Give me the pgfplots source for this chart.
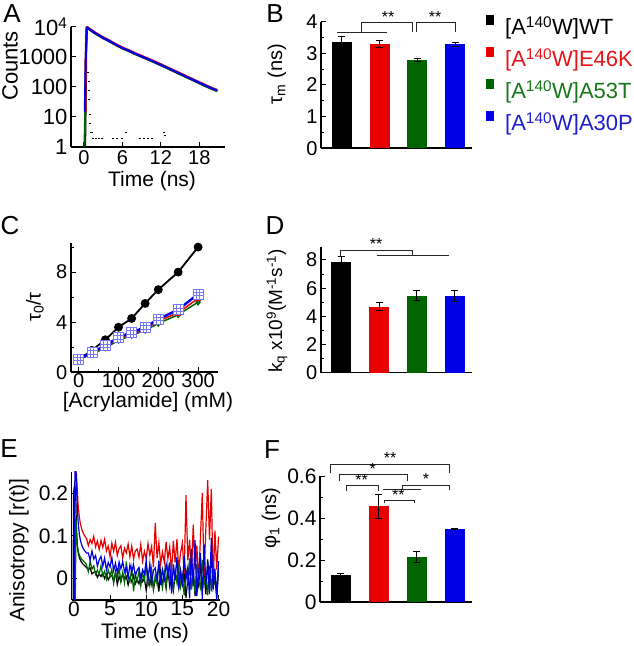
\documentclass[border=0pt]{standalone}
\usepackage{fontspec}
\setmainfont{Liberation Sans}
\usepackage{pgfplots}
\pgfplotsset{compat=1.18}

\definecolor{cred}{RGB}{230,0,0}
\definecolor{cgreen}{RGB}{0,100,0}
\definecolor{cblue}{RGB}{0,0,230}
\definecolor{tred}{RGB}{232,20,25}
\definecolor{tgreen}{RGB}{25,120,25}
\definecolor{tblue}{RGB}{30,30,205}
\definecolor{gridblue}{RGB}{120,120,255}

\newcommand{\fs}[1]{\fontsize{#1}{#1}\selectfont}

\pgfdeclareplotmark{gridsq}{%
  \pgfpathrectangle{\pgfpoint{-\pgfplotmarksize}{-\pgfplotmarksize}}{\pgfpoint{2\pgfplotmarksize}{2\pgfplotmarksize}}%
  \pgfusepathqfillstroke
  \pgfpathmoveto{\pgfpoint{-0.33\pgfplotmarksize}{-\pgfplotmarksize}}\pgfpathlineto{\pgfpoint{-0.33\pgfplotmarksize}{\pgfplotmarksize}}%
  \pgfpathmoveto{\pgfpoint{0.33\pgfplotmarksize}{-\pgfplotmarksize}}\pgfpathlineto{\pgfpoint{0.33\pgfplotmarksize}{\pgfplotmarksize}}%
  \pgfpathmoveto{\pgfpoint{-\pgfplotmarksize}{-0.33\pgfplotmarksize}}\pgfpathlineto{\pgfpoint{\pgfplotmarksize}{-0.33\pgfplotmarksize}}%
  \pgfpathmoveto{\pgfpoint{-\pgfplotmarksize}{0.33\pgfplotmarksize}}\pgfpathlineto{\pgfpoint{\pgfplotmarksize}{0.33\pgfplotmarksize}}%
  \pgfusepathqstroke
}

\tikzset{sig/.style={line width=0.9pt, black!85}}

\pgfplotsset{
  panel/.style={
    scale only axis, anchor=south west,
    axis lines*=left,
    axis line style={line width=1.6pt},
    tick style={line width=1pt, black},
    major tick length=5pt, minor tick length=3pt,
    tick align=inside,
    /pgf/number format/assume math mode=true,
    ticklabel style={font=\fs{20}},
    clip=false,
  },
  barpanel/.style={panel, ybar, bar shift=0pt, bar width=20pt,
    xmin=0.45, xmax=4.45, xtick=\empty, ymin=0},
  eb/.style={error bars/.cd, y dir=both, y explicit,
    error bar style={line width=1pt, black},
    error mark options={rotate=90, mark size=3.5pt, line width=1pt, black}},
}

\begin{document}
\begin{tikzpicture}
\useasboundingbox (0,0) rectangle (633pt,646pt);

% ---------------- A ----------------
\begin{axis}[panel, at={(71pt,499pt)}, width=154pt, height=120pt,
  ymode=log, ymin=1, ymax=10000, xmin=-2, xmax=22,
  xtick={0,6,12,18}, ytick={1,10,100,1000,10000},
  yticklabels={1,10,100,1000,10\textsuperscript{4}},
  yminorticks=false,
  yticklabel style={font=\fs{22}}]
\addplot[black, line width=2pt] coordinates {(0.2,1)(0.3,60)(0.38,2500)(0.5,9300)(0.8,8500)(1.2,7400)(1.6,6450)(2.3,5250)(3,4270)(4,3310)(5,2510)(6,1950)(7,1580)(8,1260)(9,1020)(10,830)(11,670)(12,537)(13,427)(14,339)(15,269)(16,214)(17,170)(18,135)(19,107)(20,87)(20.8,74)};
\addplot[cgreen, line width=2pt] coordinates {(0.1,1)(0.2,10)(0.3,800)(0.45,8800)(0.55,9200)(0.8,8400)(1.2,7350)(1.6,6400)(2.3,5200)(3,4230)(4,3280)(5,2490)(6,1935)(7,1570)(8,1250)(9,1010)(10,820)(11,662)(12,530)(13,422)(14,335)(15,265)(16,211)(17,168)(18,133)(19,105)(20,85)(20.8,73)};
\addplot[cred, line width=2.2pt] coordinates {(0.25,15)(0.33,2500)(0.45,9600)(0.55,9900)(0.8,9050)(1.2,7900)(1.6,6880)(2.3,5590)(3,4540)(4,3525)(5,2670)(6,2075)(7,1685)(8,1340)(9,1090)(10,885)(11,712)(12,572)(13,454)(14,361)(15,286)(16,228)(17,181)(18,144)(19,115)(20,92)(20.8,79)};
\addplot[cblue, line width=2pt] coordinates {(0.15,15)(0.3,900)(0.45,9300)(0.55,9550)(0.8,8700)(1.2,7590)(1.6,6610)(2.3,5370)(3,4365)(4,3390)(5,2570)(6,1995)(7,1620)(8,1290)(9,1047)(10,851)(11,684)(12,550)(13,437)(14,347)(15,275)(16,219)(17,174)(18,138)(19,110)(20,89)(20.8,76)};
\addplot[only marks, mark=-, mark size=1pt, mark options={line width=0.6pt}, black] coordinates {(0.7,300)(0.75,150)(0.8,80)(0.85,40)(0.9,12)(1.0,6)(1.15,3)(1.3,3.2)(1.5,2)(1.9,2)(2.4,2)(2.9,2)(4.5,2)(5.2,2)(6.0,2)(6.5,3.2)(8.7,2)(9.3,2)(10.0,2)(10.6,2)(12.5,3.2)(12.6,2.4)};
\end{axis}

% ---------------- B ----------------
\begin{axis}[barpanel, at={(321pt,497.7pt)}, width=151pt, height=126.6pt,
  ymax=4, ytick={0,1,2,3,4}, minor ytick={0.5,1.5,2.5,3.5}]
\addplot[fill=black, draw=none, bar shift=0pt, eb] coordinates {(1,3.35) +- (0,0.17)};
\addplot[fill=cred, draw=none, bar shift=0pt, eb] coordinates {(2,3.30) +- (0,0.12)};
\addplot[fill=cgreen, draw=none, bar shift=0pt, eb] coordinates {(3,2.78) +- (0,0.05)};
\addplot[fill=cblue, draw=none, bar shift=0pt, eb] coordinates {(4,3.29) +- (0,0.06)};
\draw[sig] (axis cs:0.874,3.665) -- (axis cs:2.198,3.665);
\draw[sig] (axis cs:1.53,3.665) -- (axis cs:1.53,3.97) -- (axis cs:2.88,3.97) -- (axis cs:2.88,3.665);
\draw[sig] (axis cs:2.985,3.665) -- (axis cs:2.985,3.97) -- (axis cs:3.999,3.97) -- (axis cs:3.999,3.665);
\node[font=\fs{16}] at (axis cs:2.225,4.15) {**};
\node[font=\fs{16}] at (axis cs:3.47,4.15) {**};
\end{axis}

% legend of the four proteins
\fill[black]  (485.7pt,621pt) rectangle (493.7pt,631pt);
\fill[cred]   (485.7pt,589pt) rectangle (493.7pt,599pt);
\fill[cgreen] (485.7pt,557pt) rectangle (493.7pt,567pt);
\fill[cblue]  (485.7pt,525pt) rectangle (493.7pt,535pt);
\node[anchor=base west, inner sep=0pt, font=\fs{22}] at (505pt,611pt) {[A\textsuperscript{140}W]WT};
\node[anchor=base west, inner sep=0pt, font=\fs{22}, text=tred] at (505pt,579pt) {[A\textsuperscript{140}W]E46K};
\node[anchor=base west, inner sep=0pt, font=\fs{22}, text=tgreen] at (505pt,547pt) {[A\textsuperscript{140}W]A53T};
\node[anchor=base west, inner sep=0pt, font=\fs{22}, text=tblue] at (505pt,515pt) {[A\textsuperscript{140}W]A30P};

% ---------------- C ----------------
\begin{axis}[panel, at={(70.7pt,273.7pt)}, width=147.3pt, height=129pt,
  xmin=-20, xmax=350, ymin=0, ymax=10.3,
  xtick={0,100,200,300}, minor xtick={50,150,250},
  ytick={0,4,8}, minor ytick={2,6,10},
  xticklabel style={yshift=2pt}]
\addplot[black, line width=1.8pt, mark=*, mark size=3.5pt] coordinates {(0,1.0)(33,1.75)(67,2.6)(100,3.6)(133,4.3)(167,5.5)(200,6.6)(250,8.0)(300,10.0)};
\addplot[cgreen, line width=1.5pt, mark=diamond*, mark size=2.5pt] coordinates {(0,1.0)(33,1.45)(67,1.95)(100,2.55)(133,2.95)(167,3.35)(200,3.9)(250,4.6)(300,5.6)};
\addplot[cred, line width=1.5pt, mark=square*, mark size=2pt] coordinates {(0,1.0)(33,1.55)(67,2.05)(100,2.7)(133,3.05)(167,3.45)(200,4.1)(250,4.75)(300,5.9)};
\addplot[cblue, line width=2.4pt, mark=gridsq, mark size=5pt, mark options={draw=gridblue, fill=white, line width=0.6pt}] coordinates {(0,1.07)(33,1.6)(67,2.13)(100,2.79)(133,3.19)(167,3.59)(200,4.25)(250,5.0)(300,6.25)};
\end{axis}

% ---------------- D ----------------
\begin{axis}[barpanel, at={(320.7pt,273.3pt)}, width=151pt, height=125.4pt,
  ymax=8.9, ytick={0,2,4,6,8}, minor ytick={1,3,5,7}]
\addplot[fill=black, draw=none, bar shift=0pt, eb] coordinates {(1,7.87) +- (0,0.35)};
\addplot[fill=cred, draw=none, bar shift=0pt, eb] coordinates {(2,4.68) +- (0,0.28)};
\addplot[fill=cgreen, draw=none, bar shift=0pt, eb] coordinates {(3,5.46) +- (0,0.35)};
\addplot[fill=cblue, draw=none, bar shift=0pt, eb] coordinates {(4,5.44) +- (0,0.37)};
\draw[sig] (axis cs:0.98,8.23) -- (axis cs:0.98,8.71) -- (axis cs:2.887,8.71) -- (axis cs:2.887,8.35);
\draw[sig] (axis cs:1.95,8.35) -- (axis cs:3.86,8.35);
\node[font=\fs{16}] at (axis cs:1.915,9.11) {**};
\end{axis}

% ---------------- E ----------------
\begin{axis}[panel, at={(71.7pt,46pt)}, width=148.3pt, height=128.3pt,
  xmin=-0.3, xmax=20.2, ymin=-0.05, ymax=0.25,
  xtick={0,5,10,15,20}, ytick={0,0.1,0.2},
  ticklabel style={font=\fs{21}}, xticklabel style={yshift=2pt}]
\addplot[black, line width=1.2pt] coordinates {(-0.1,-0.05)(-0.05,0.2)(0.1,0.22)(0.25,0.2)(0.35,0.12)(0.45,0.08)(0.6,0.06)(0.8,0.047)(1,0.04)(1.25,0.034)(1.5,0.03)(1.75,0.026)
(2,0.020)(2.25,0.025)(2.5,0.011)(2.75,0.015)(3,0.016)(3.25,0.003)(3.5,0.011)(3.75,0.005)(4,0.013)(4.25,0.000)(4.5,0.010)(4.75,-0.003)(5,0.005)(5.25,0.008)(5.5,-0.007)(5.75,0.016)(6,-0.014)(6.25,0.005)(6.5,-0.007)(6.75,0.011)(7,-0.003)(7.25,0.005)(7.5,-0.015)(7.75,0.003)(8,-0.008)(8.25,0.007)(8.5,-0.012)(8.75,-0.002)(9,-0.012)(9.25,0.007)(9.5,-0.007)(9.75,0.000)(10,-0.028)(10.25,0.013)(10.5,-0.015)(10.75,0.015)(11,-0.025)(11.25,-0.003)(11.5,0.010)(11.75,-0.030)(12,0.018)(12.25,-0.013)(12.5,0.008)(12.75,-0.023)(13,0.020)(13.25,-0.018)(13.5,0.003)(13.75,-0.028)(14,0.010)(14.25,0.003)(14.5,-0.023)(14.75,0.018)(15,-0.013)(15.25,0.015)(15.5,-0.045)(15.75,-0.001)(16,0.027)(16.25,-0.025)(16.5,0.019)(16.75,-0.041)(17,0.003)(17.25,-0.017)(17.5,0.035)(17.75,-0.029)(18,0.011)(18.25,-0.037)(18.5,0.045)(18.75,-0.009)(19,0.060)(19.25,-0.021)(19.5,0.003)(19.75,-0.045)(20,0.019)};
\addplot[cred, line width=1.2pt] coordinates {(0.2,0.25)(0.35,0.245)(0.5,0.2)(0.6,0.17)(0.75,0.145)(0.9,0.128)(1.1,0.115)(1.3,0.106)(1.5,0.1)(1.75,0.094)
(2,0.077)(2.25,0.091)(2.5,0.082)(2.75,0.099)(3,0.074)(3.25,0.088)(3.5,0.068)(3.75,0.089)(4,0.073)(4.25,0.092)(4.5,0.065)(4.75,0.076)(5,0.051)(5.25,0.083)(5.5,0.064)(5.75,0.085)(6,0.054)(6.25,0.070)(6.5,0.077)(6.75,0.048)(7,0.071)(7.25,0.060)(7.5,0.081)(7.75,0.051)(8,0.076)(8.25,0.046)(8.5,0.065)(8.75,0.069)(9,0.050)(9.25,0.080)(9.5,0.041)(9.75,0.064)(10,0.046)(10.25,0.082)(10.5,0.055)(10.75,0.075)(11,0.027)(11.25,0.130)(11.5,0.048)(11.75,0.084)(12,0.035)(12.25,0.062)(12.5,0.038)(12.75,0.086)(13,0.047)(13.25,0.074)(13.5,0.016)(13.75,0.088)(14,0.038)(14.25,0.092)(14.5,0.020)(14.75,0.061)(15,0.083)(15.25,0.011)(15.5,0.195)(15.75,0.043)(16,0.091)(16.25,0.007)(16.5,0.126)(16.75,0.021)(17,0.077)(17.25,-0.007)(17.5,0.098)(17.75,0.200)(18,0.007)(18.25,0.119)(18.5,0.230)(18.75,0.091)(19,0.210)(19.25,-0.010)(19.5,0.112)(19.75,0.021)(20,0.098)};
\addplot[cgreen, line width=1.2pt] coordinates {(0.05,-0.05)(0.1,0.15)(0.2,-0.05)(0.3,0.14)(0.4,0.1)(0.5,0.075)(0.7,0.058)(0.9,0.05)(1.1,0.045)(1.4,0.04)(1.7,0.034)
(2,0.016)(2.25,0.041)(2.5,0.022)(2.75,0.030)(3,0.010)(3.25,0.020)(3.5,0.010)(3.75,0.030)(4,0.007)(4.25,0.017)(4.5,-0.001)(4.75,0.021)(5,0.006)(5.25,0.022)(5.5,-0.011)(5.75,0.013)(6,0.000)(6.25,0.026)(6.5,-0.007)(6.75,0.015)(7,-0.010)(7.25,0.040)(7.5,0.003)(7.75,-0.007)(8,0.025)(8.25,-0.030)(8.5,0.010)(8.75,-0.006)(9,0.018)(9.25,-0.017)(9.5,0.013)(9.75,-0.003)(10,0.029)(10.25,-0.016)(10.5,-0.007)(10.75,0.023)(11,-0.025)(11.25,0.008)(11.5,-0.013)(11.75,0.032)(12,-0.001)(12.25,-0.022)(12.5,0.017)(12.75,-0.016)(13,0.029)(13.25,-0.004)(13.5,0.011)(13.75,-0.028)(14,0.020)(14.25,-0.010)(14.5,0.026)(14.75,-0.019)(15,0.007)(15.25,-0.039)(15.5,0.020)(15.75,-0.007)(16,0.047)(16.25,-0.025)(16.5,0.016)(16.75,-0.034)(17,0.034)(17.25,-0.003)(17.5,-0.021)(17.75,0.043)(18,-0.012)(18.25,0.011)(18.5,-0.039)(18.75,0.029)(19,-0.030)(19.25,0.038)(19.5,-0.007)(19.75,-0.016)(20,0.025)};
\addplot[cblue, line width=1.2pt] coordinates {(0.05,-0.05)(0.15,0.25)(0.3,0.25)(0.4,0.2)(0.5,0.16)(0.6,0.13)(0.75,0.105)(0.9,0.09)(1.1,0.078)(1.3,0.07)(1.5,0.065)(1.75,0.06)
(2,0.060)(2.25,0.043)(2.5,0.065)(2.75,0.046)(3,0.054)(3.25,0.029)(3.5,0.044)(3.75,0.052)(4,0.029)(4.25,0.048)(4.5,0.020)(4.75,0.038)(5,0.027)(5.25,0.049)(5.5,0.019)(5.75,0.036)(6,0.013)(6.25,0.039)(6.5,0.023)(6.75,0.040)(7,0.016)(7.25,0.026)(7.5,0.003)(7.75,0.032)(8,0.015)(8.25,0.033)(8.5,0.006)(8.75,0.020)(9,0.026)(9.25,0.001)(9.5,0.021)(9.75,0.011)(10,0.042)(10.25,-0.003)(10.5,0.035)(10.75,-0.010)(11,0.019)(11.25,0.025)(11.5,-0.003)(11.75,0.042)(12,-0.015)(12.25,0.021)(12.5,-0.001)(12.75,0.035)(13,0.007)(13.25,0.038)(13.5,-0.035)(13.75,0.033)(14,-0.004)(14.25,0.051)(14.5,-0.023)(14.75,0.018)(15,-0.018)(15.25,0.054)(15.5,-0.001)(15.75,0.026)(16,-0.046)(16.25,0.070)(16.5,-0.017)(16.75,0.090)(17,-0.041)(17.25,0.013)(17.5,0.060)(17.75,-0.048)(18,0.080)(18.25,-0.012)(18.5,0.036)(18.75,-0.036)(19,0.095)(19.25,-0.025)(19.5,0.023)(19.75,-0.049)(20,0.041)};
\end{axis}

% ---------------- F ----------------
\begin{axis}[barpanel, at={(320pt,43.7pt)}, width=151.7pt, height=126.3pt,
  ymax=0.6, ytick={0,0.2,0.4,0.6}, minor ytick={0.1,0.3,0.5},
  ticklabel style={font=\fs{21}}]
\addplot[fill=black, draw=none, bar shift=0pt, eb] coordinates {(1,0.130) +- (0,0.006)};
\addplot[fill=cred, draw=none, bar shift=0pt, eb] coordinates {(2,0.457) +- (0,0.057)};
\addplot[fill=cgreen, draw=none, bar shift=0pt, eb] coordinates {(3,0.214) +- (0,0.025)};
\addplot[fill=cblue, draw=none, bar shift=0pt, eb] coordinates {(4,0.348) +- (0,0.004)};
\draw[sig] (axis cs:0.732,0.613) -- (axis cs:0.732,0.656) -- (axis cs:3.859,0.656) -- (axis cs:3.859,0.613);
\draw[sig] (axis cs:0.959,0.576) -- (axis cs:0.959,0.608) -- (axis cs:2.752,0.608) -- (axis cs:2.752,0.576);
\draw[sig] (axis cs:1.136,0.529) -- (axis cs:1.136,0.557) -- (axis cs:1.987,0.557) -- (axis cs:1.987,0.529);
\draw[sig] (axis cs:2.103,0.537) -- (axis cs:3.113,0.537);
\draw[sig] (axis cs:2.631,0.537) -- (axis cs:2.631,0.557) -- (axis cs:3.859,0.557) -- (axis cs:3.859,0.533);
\draw[sig] (axis cs:2.145,0.473) -- (axis cs:2.145,0.486) -- (axis cs:2.929,0.486) -- (axis cs:2.929,0.473);
\node[font=\fs{16}] at (axis cs:2.296,0.684) {**};
\node[font=\fs{16}] at (axis cs:1.84,0.632) {*};
\node[font=\fs{16}] at (axis cs:1.55,0.581) {**};
\node[font=\fs{16}] at (axis cs:3.245,0.584) {*};
\node[font=\fs{16}] at (axis cs:2.515,0.51) {**};
\end{axis}

% ---------------- labels ----------------
\node[font=\fs{26}] at (12pt,632pt) {A};
\node[font=\fs{26}] at (275pt,632pt) {B};
\node[font=\fs{26}] at (10pt,420pt) {C};
\node[font=\fs{26}] at (275pt,420pt) {D};
\node[font=\fs{26}] at (9pt,197pt) {E};
\node[font=\fs{26}] at (272pt,196pt) {F};

\node[font=\fs{22}, rotate=90] at (10pt,580pt) {Counts};
\node[font=\fs{21}] at (152pt,465pt) {Time (ns)};
\node[font=\fs{20}, rotate=90] at (277pt,572pt) {τ\textsubscript{m} (ns)};
\node[font=\fs{20}, rotate=90] at (35pt,339pt) {τ\textsubscript{0}/τ};
\node[font=\fs{21}] at (148pt,244pt) {[Acrylamide] (mM)};
\node[font=\fs{19}, rotate=90] at (277pt,335pt) {k\textsubscript{q} x10\textsuperscript{9}(M\textsuperscript{-1}s\textsuperscript{-1})};
\node[font=\fs{21}, rotate=90] at (19pt,96pt) {Anisotropy [r(t)]};
\node[font=\fs{21}] at (145pt,13pt) {Time (ns)};
\node[font=\fs{20}, rotate=90] at (271pt,128pt) {φ\textsubscript{1} (ns)};
\end{tikzpicture}
\end{document}
